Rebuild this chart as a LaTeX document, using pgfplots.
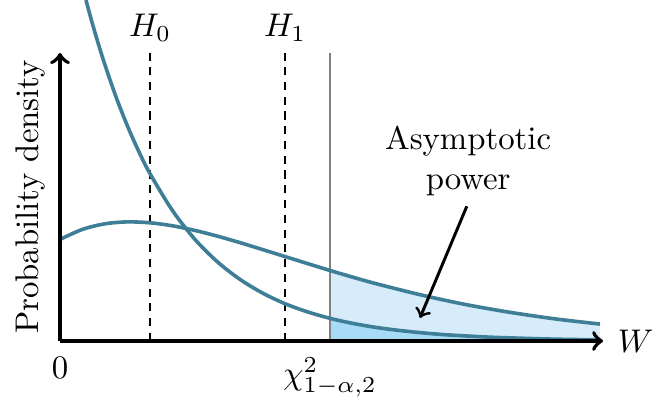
\documentclass[border=0pt]{standalone}
\usepackage{pgfplots}
\pgfplotsset{compat=1.18}

\definecolor{curvecol}{RGB}{62,126,150}
\definecolor{powerfill}{RGB}{214,236,250}
\definecolor{sizefill}{RGB}{168,220,246}

% chi^2_2 density under H0
\pgfplotstableread{
W     f
0.577 0.3747
0.70  0.3523
0.85  0.3269
1.00  0.3033
1.25  0.2676
1.50  0.2362
1.75  0.2084
2.00  0.1839
2.50  0.1433
3.00  0.1116
3.50  0.0869
4.00  0.0677
4.50  0.0527
5.00  0.0410
5.50  0.0320
6.00  0.0249
6.50  0.0194
7.00  0.0151
7.50  0.0118
8.00  0.0092
8.50  0.0071
9.00  0.0056
9.50  0.0043
10.0  0.0034
11.0  0.0020
12.0  0.0012
}\nullden

% non-central chi^2_2 density under H1
\pgfplotstableread{
W     f
0.0   0.1116
0.5   0.1227
1.0   0.1288
1.5   0.1309
2.0   0.1299
2.5   0.1266
3.0   0.1215
3.5   0.1152
4.0   0.1081
4.5   0.1005
5.0   0.0928
5.5   0.0851
6.0   0.0775
6.5   0.0702
7.0   0.0633
8.0   0.0509
9.0   0.0402
10.0  0.0315
11.0  0.0243
12.0  0.0186
}\altden

% rejection-region parts of both densities
\pgfplotstableread{
W     f
6.0   0.0249
6.5   0.0194
7.0   0.0151
7.5   0.0118
8.0   0.0092
8.5   0.0071
9.0   0.0056
9.5   0.0043
10.0  0.0034
11.0  0.0020
12.0  0.0012
}\nulltail
\pgfplotstableread{
W     f
6.0   0.0775
6.5   0.0702
7.0   0.0633
8.0   0.0509
9.0   0.0402
10.0  0.0315
11.0  0.0243
12.0  0.0186
}\alttail

\begin{document}
\begin{tikzpicture}
\begin{axis}[
  anchor=origin, at={(0,0)},
  x=13.725pt, y=277.5pt,
  xmin=0, xmax=12.07, ymin=0, ymax=0.3165,
  axis lines=left,
  axis line style={line width=1.2pt, ->},
  xtick=\empty, ytick=\empty,
  clip=false, axis on top,
]
  \addplot[draw=none, fill=powerfill, smooth] table[x=W,y=f] {\alttail} \closedcycle;
  \addplot[draw=none, fill=sizefill, smooth] table[x=W,y=f] {\nulltail} \closedcycle;

  \addplot[black, line width=0.4pt, dash pattern=on 2.5pt off 2pt] coordinates {(2,0) (2,0.3165)};
  \addplot[black, line width=0.4pt, dash pattern=on 2.5pt off 2pt] coordinates {(5,0) (5,0.3165)};
  \addplot[black!50, line width=0.6pt] coordinates {(6,0) (6,0.3165)};

  \addplot[curvecol, line width=1.1pt, smooth] table[x=W,y=f] {\nullden};
  \addplot[curvecol, line width=1.1pt, smooth] table[x=W,y=f] {\altden};

  \node[anchor=base, yshift=4.9pt] at (axis cs:2,0.3165) {$H_0$};
  \node[anchor=base, yshift=4.9pt] at (axis cs:5,0.3165) {$H_1$};
  \node[anchor=north, inner sep=0pt, yshift=-4.9pt] at (axis cs:0,0) {$0$};
  \node[anchor=north, inner sep=0pt, yshift=-4.9pt] at (axis cs:6,0) {$\chi^2_{1-\alpha,2}$};
  \node[anchor=west, inner sep=0pt, xshift=4.3pt] at (axis cs:12.07,0) {$W$};
  \node[rotate=90] at ([xshift=-8.85pt]axis cs:0,0.1583) {Probability density};

  \node[align=center] at (axis cs:9.07,0.198) {Asymptotic\\power};
  \draw[->, line width=0.9pt] (axis cs:9.04,0.148) -- (axis cs:8.0,0.0254);
\end{axis}
\pgfresetboundingbox
\useasboundingbox (-18.3pt,-19.52pt) rectangle (180.56pt,104.0pt);
\end{tikzpicture}
\end{document}
